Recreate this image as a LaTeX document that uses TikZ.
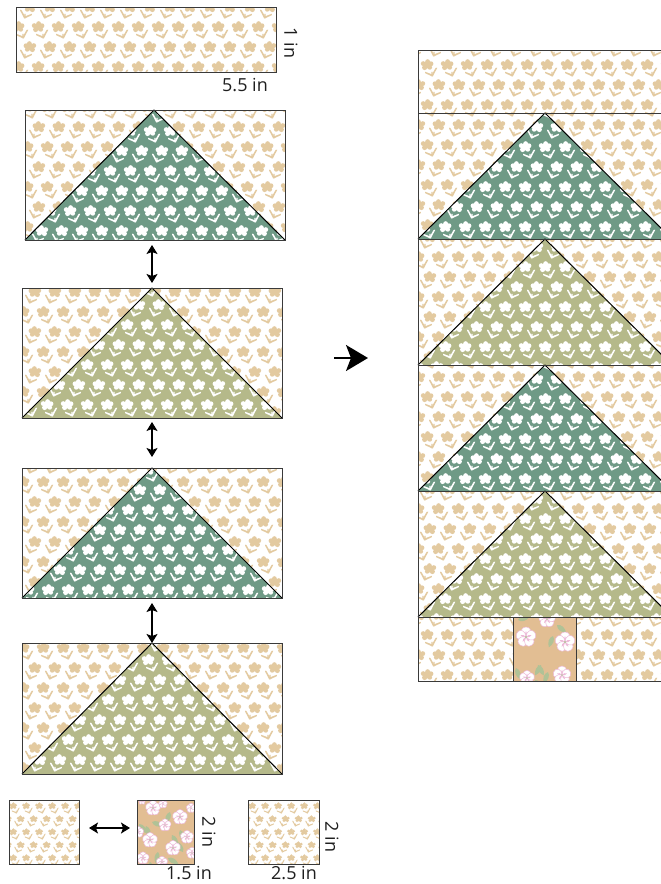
\documentclass[tikz,border=0pt]{standalone}
\usepackage{fontspec}
\setmainfont{Open Sans}
\usetikzlibrary{arrows.meta,calc,patterns}
\definecolor{tanf}{HTML}{E3CAA0}
\definecolor{greent}{HTML}{6F9A86}
\definecolor{olivet}{HTML}{B5B98A}
\definecolor{floralbg}{HTML}{E2BE93}
\definecolor{floralpink}{HTML}{EDB9D8}
\definecolor{floralleaf}{HTML}{B0C296}
\definecolor{edgec}{HTML}{3A3A3A}
\tikzset{
  x=1pt,y=-1pt,
  piece/.style={draw=edgec,line width=1pt,inner sep=0pt,outer sep=0pt,fill=none},
  triline/.style={draw=black,line width=1pt,line join=miter},
  dblarrow/.style={{Stealth[length=9pt,width=11pt,inset=2pt]}-{Stealth[length=9pt,width=11pt,inset=2pt]},line width=1.2pt,black},
  bigarrow/.style={-{Stealth[length=22pt,width=26pt,inset=5pt]},line width=2pt,black},
  dim/.style={font=\fontsize{18}{18}\selectfont,text=black!88,inner sep=0pt},
  dimv/.style={dim,rotate=-90}
}
\newcommand\Pq[2]{\pgfqpoint{#1pt}{#2pt}}
\newcommand\flwrcode{%
  \pgfpathcircle{\Pq{0}{0}}{3.6pt}\pgfusepath{fill}%
  \pgfpathcircle{\Pq{0.6}{-3.4}}{2.4pt}\pgfusepath{fill}%
  \pgfpathcircle{\Pq{3.9}{-1.2}}{2.5pt}\pgfusepath{fill}%
  \pgfpathcircle{\Pq{2.8}{2.4}}{2.3pt}\pgfusepath{fill}%
  \pgfpathcircle{\Pq{-2.4}{2.6}}{2.5pt}\pgfusepath{fill}%
  \pgfpathcircle{\Pq{-3.8}{-1.4}}{2.4pt}\pgfusepath{fill}%
  \pgfpathmoveto{\Pq{4.4}{11.4}}\pgfpathlineto{\Pq{5.8}{11.4}}\pgfpathlineto{\Pq{5.6}{7}}\pgfpathlineto{\Pq{4.4}{7}}\pgfpathclose\pgfusepath{fill}%
  \pgfpathmoveto{\Pq{4.6}{10}}\pgfpathlineto{\Pq{8.6}{3}}\pgfpathlineto{\Pq{10.4}{2.6}}\pgfpathlineto{\Pq{5.8}{11.4}}\pgfpathclose\pgfusepath{fill}%
  \pgfpathmoveto{\Pq{5.2}{9.4}}\pgfpathlineto{\Pq{-1.8}{6.8}}\pgfpathlineto{\Pq{-1.8}{8.2}}\pgfpathlineto{\Pq{4.6}{11.2}}\pgfpathclose\pgfusepath{fill}%
}
\newcommand\realmk[8]{% name X Y scale mirror stepx lowy lowx
  \pgfdeclarepatternformonly{#1}{\pgfqpoint{#8pt}{#7pt}}%
    {\pgfpoint{#8pt+#6pt}{#7pt+2*#6pt}}{\pgfqpoint{#6pt}{\dimexpr2\dimexpr#6pt\relax\relax}}{%
    \pgftransformreset
    \pgftransformshift{\pgfqpoint{#2pt}{#3pt}}%
    \pgftransformcm{#5*#4}{0}{0}{-#4}{\pgfpointorigin}%
    \flwrcode}}
\newcommand\mkpat[5]{% name ax ay scale mirror
  \pgfmathsetmacro\stpx{20*#4}%
  \pgfmathsetmacro\tmpx{mod(#2,\stpx)+\stpx}%
  \pgfmathsetmacro\tmpy{mod(884-(#3),2*\stpx)+2*\stpx}%
  \pgfmathsetmacro\lowy{\tmpy-25*#4}%
  \pgfmathsetmacro\lowx{\tmpx-10*#4}%
  \edef\tmpdo{\noexpand\realmk{#1}{\tmpx}{\tmpy}{#4}{#5}{\stpx}{\lowy}{\lowx}}\tmpdo}
\newcount\patn
\newcommand\mkboth[3]{% ax ay scale
  \global\advance\patn by 1\relax
  \mkpat{fa\the\patn}{#1}{#2}{#3}{1}%
  \pgfmathsetmacro\bxx{#1-8*#3}\pgfmathsetmacro\byy{#2+20*#3}%
  \edef\tmpdob{\noexpand\mkpat{fb\the\patn}{\bxx}{\byy}{#3}{-1}}\tmpdob}
\newcommand\tanrect[7]{%
  \mkboth{#5}{#6}{#7}%
  \fill[white] (#1,#2) rectangle (#3,#4);
  \fill[pattern=fa\the\patn,pattern color=tanf] (#1,#2) rectangle (#3,#4);
  \fill[pattern=fb\the\patn,pattern color=tanf] (#1,#2) rectangle (#3,#4);}
\newcommand\goose[9]{%
  \tanrect{#1}{#2}{#3}{#4}{#6}{#7}{1}%
  \mkboth{#8}{#9}{1}%
  \fill[gtri] (#1,#4) -- (#5,#2) -- (#3,#4) -- cycle;
  \fill[pattern=fa\the\patn,pattern color=white] (#1,#4) -- (#5,#2) -- (#3,#4) -- cycle;
  \fill[pattern=fb\the\patn,pattern color=white] (#1,#4) -- (#5,#2) -- (#3,#4) -- cycle;
  \draw[triline] (#1,#4) -- (#5,#2) -- (#3,#4);}
\newcommand\bloom[3]{% x y scale
  \begin{scope}[shift={(#1,#2)},scale=#3]
  \foreach \a in {90,162,234,306,18}{
    \fill[white,draw=floralpink,line width=0.5pt,rotate=\a] (0,0) .. controls (2,-6) and (9,-6.5) .. (9.5,0) .. controls (9,6.5) and (2,6) .. (0,0);
    \fill[floralpink,rotate=\a] (0,0) .. controls (2,-1.5) and (4,-1.2) .. (5.5,0) .. controls (4,1.2) and (2,1.5) .. (0,0);
  }
  \fill[floralleaf] (0,0) circle[radius=1pt];
  \end{scope}}
\newcommand\leaf[3]{% x y angle
  \fill[floralleaf,shift={(#1,#2)},rotate=#3] (0,0) .. controls (3,-3.6) and (8,-3) .. (12,0) .. controls (8,3) and (3,3.6) .. (0,0);}
\begin{document}
\begin{tikzpicture}
\useasboundingbox (0,0) rectangle (661,884);
\fill[white] (0,0) rectangle (661,884);
% ---- left column patches
\tanrect{16}{7}{276}{72}{38}{27}{1}
\colorlet{gtri}{greent}
\goose{25}{110}{285}{240}{154}{47}{147}{150}{131}
\colorlet{gtri}{olivet}
\goose{22}{288}{282}{418}{152}{63}{312}{127}{365}
\colorlet{gtri}{greent}
\goose{22}{468}{282}{598}{152}{183}{482}{148}{510}
\colorlet{gtri}{olivet}
\goose{22}{643}{282}{774}{152}{123}{648}{148}{700}
% bottom pieces
\tanrect{9}{800}{79}{864}{26}{806}{0.65}
\tanrect{248}{800}{319}{864}{265}{806}{0.65}
\begin{scope}
  \clip (137,800) rectangle (194,864);
  \fill[floralbg] (137,800) rectangle (194,864);
  \leaf{139}{824}{-50}\leaf{146}{826}{-70}\leaf{165}{803}{110}\leaf{172}{835}{-60}\leaf{158}{852}{-100}\leaf{180}{830}{-70}\leaf{168}{858}{-30}\leaf{150}{862}{-80}\leaf{170}{812}{-110}\leaf{152}{822}{-20}\leaf{183}{852}{120}
  \bloom{153}{808}{0.8}\bloom{180}{817}{0.8}\bloom{165}{825}{0.65}\bloom{150}{840}{0.8}\bloom{173}{848}{0.8}\bloom{187}{837}{0.7}\bloom{143}{858}{0.65}\bloom{162}{862}{0.6}\bloom{138}{832}{0.6}\bloom{192}{853}{0.6}\bloom{191}{808}{0.5}\bloom{142}{801}{0.4}\bloom{163}{804}{0.45}
\end{scope}
% ---- right column patches
\tanrect{418}{50}{672}{113}{427}{65}{1}
\colorlet{gtri}{greent}
\goose{418}{113}{672}{239}{545}{427}{145}{525}{147}
\colorlet{gtri}{olivet}
\goose{418}{239}{672}{365}{545}{418}{257}{525}{267}
\colorlet{gtri}{greent}
\goose{418}{365}{672}{491}{545}{427}{397}{525}{399}
\colorlet{gtri}{olivet}
\goose{418}{491}{672}{617}{545}{418}{509}{525}{519}
\tanrect{418}{617}{672}{681}{427}{635}{1}
\begin{scope}
  \clip (513,617) rectangle (576,681);
  \fill[floralbg] (513,617) rectangle (576,681);
  \leaf{516}{668}{-70}\leaf{538}{665}{-60}\leaf{541}{665}{-120}\leaf{535}{680}{-50}\leaf{553}{636}{-110}\leaf{518}{620}{15}\leaf{557}{625}{-40}\leaf{548}{672}{-110}
  \bloom{526}{637}{1.05}\bloom{565}{642}{1.05}\bloom{547}{619}{0.9}\bloom{527}{678}{0.8}\bloom{562}{675}{0.95}
\end{scope}
% ---- named pieces (outlines)
\node[piece,minimum width=260pt,minimum height=65pt] (strip) at (146,39.5) {};
\node[piece,minimum width=260pt,minimum height=130pt] (b1) at (155,175) {};
\node[piece,minimum width=260pt,minimum height=130pt] (b2) at (152,353) {};
\node[piece,minimum width=260pt,minimum height=130pt] (b3) at (152,533) {};
\node[piece,minimum width=260pt,minimum height=131pt] (b4) at (152,708.5) {};
\node[piece,minimum width=70pt,minimum height=64pt] (s1) at (44,832) {};
\node[piece,minimum width=57pt,minimum height=64pt] (s2) at (165.5,832) {};
\node[piece,minimum width=71pt,minimum height=64pt] (s3) at (283.5,832) {};
\node[piece,minimum width=254pt,minimum height=63pt] (r0) at (545,81.5) {};
\node[piece,minimum width=254pt,minimum height=126pt] (r1) at (545,176) {};
\node[piece,minimum width=254pt,minimum height=126pt] (r2) at (545,302) {};
\node[piece,minimum width=254pt,minimum height=126pt] (r3) at (545,428) {};
\node[piece,minimum width=254pt,minimum height=126pt] (r4) at (545,554) {};
\node[piece,minimum width=254pt,minimum height=64pt] (r5) at (545,649) {};
\node[piece,minimum width=63pt,minimum height=64pt] (rs) at (544.5,649) {};
% ---- connectors
\draw[dblarrow,shorten <=5pt,shorten >=5pt] (b2.north |- b1.south) -- (b2.north);
\draw[dblarrow,shorten <=4pt,shorten >=11pt] (b2.south) -- (b3.north);
\draw[dblarrow,shorten <=5pt,shorten >=0pt] (b3.south) -- (b4.north);
\coordinate (sa) at (s1.east |- 0,828);
\coordinate (sb) at (s2.west |- 0,828);
\draw[dblarrow,shorten <=10pt,shorten >=7pt] (sa) -- (sb);
\coordinate (bigA) at (334,358);
\coordinate (bigB) at (368,358);
\draw[bigarrow] (bigA) -- (bigB);
% ---- labels
\node[dimv] (l1) at (291,43) {1 in};
\node[dim] (l2) at (245,85) {5.5 in};
\node[dimv] (l3) at (209,832) {2 in};
\node[dim] (l4) at (189,873.5) {1.5 in};
\node[dimv] (l5) at (332,837) {2 in};
\node[dim] (l6) at (294,873.5) {2.5 in};
\end{tikzpicture}
\end{document}
